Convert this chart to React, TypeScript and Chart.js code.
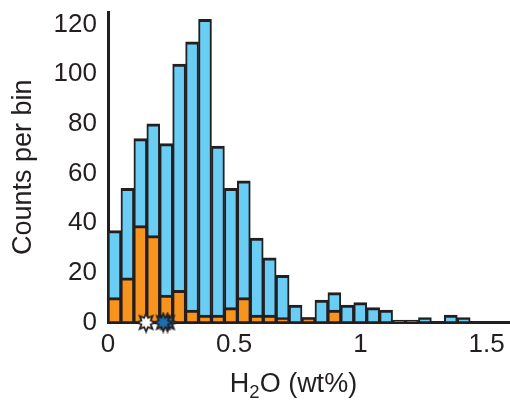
import React, { useEffect, useRef } from "react";
import { Chart, registerables } from "chart.js";

Chart.register(...registerables);

// ---- data ----
const binLabels = [
  "0.00", "0.05", "0.10", "0.15", "0.21", "0.26", "0.31", "0.36", "0.41", "0.46",
  "0.51", "0.56", "0.62", "0.67", "0.72", "0.77", "0.82", "0.87", "0.92", "0.97",
  "1.03", "1.08", "1.13", "1.18", "1.23", "1.28", "1.33", "1.38", "1.44", "1.49", "1.54",
];
const totalCounts = [
  37, 54, 74, 80, 72, 104, 113, 122, 71, 54,
  57, 34, 26, 19, 7, 2, 9, 12, 7, 8,
  6, 5, 1, 1, 2, 0, 3, 2, 0, 0, 0,
];
const orangeCounts = [
  10, 18, 39, 35, 11, 13, 5, 3, 3, 6,
  10, 3, 3, 2, 0, 2, 0, 5, 0, 0,
  0, 0, 0, 0, 0, 0, 0, 0, 0, 0, 0,
];
const starX = [0.151, 0.236, 0.219];
const starY = [0, 0, 0];
const starFills = ["#ffffff", "#1c6db3", "#1c6db3"];
const yTicks = [0, 20, 40, 60, 80, 100, 120];
const xTicks = [0, 0.5, 1, 1.5];
const xRange = [0, 1.589];
const yRange = [0, 125];

const INK = "#231f20";
const BLUE = "#69cdf4";
const ORANGE = "#f7941d";
const FONT = "'Liberation Sans', Arial, Helvetica, sans-serif";

function makeStar(fill: string): HTMLCanvasElement {
  const size = 22;
  const c = document.createElement("canvas");
  c.width = size;
  c.height = size;
  const ctx = c.getContext("2d")!;
  const cx = size / 2, cy = size / 2, R = 9, r = 5, n = 8;
  ctx.beginPath();
  for (let i = 0; i < 2 * n; i++) {
    const rad = i % 2 === 0 ? R : r;
    const a = -Math.PI / 2 + (i * Math.PI) / n;
    const px = cx + rad * Math.cos(a);
    const py = cy + rad * Math.sin(a);
    if (i === 0) ctx.moveTo(px, py);
    else ctx.lineTo(px, py);
  }
  ctx.closePath();
  ctx.fillStyle = fill;
  ctx.fill();
  ctx.lineWidth = 1.8;
  ctx.strokeStyle = INK;
  ctx.stroke();
  return c;
}

const xTitlePlugin = {
  id: "xTitleSub",
  afterDraw(chart: any) {
    const s = chart.scales.xLin;
    const ctx = chart.ctx as CanvasRenderingContext2D;
    const cx = s.getPixelForValue(0.735);
    const base = chart.chartArea.bottom + 69.5;
    const big = `27px ${FONT}`;
    const small = `18.5px ${FONT}`;
    ctx.save();
    ctx.fillStyle = INK;
    ctx.textBaseline = "alphabetic";
    ctx.textAlign = "left";
    ctx.font = big;
    const wH = ctx.measureText("H").width;
    const wRest = ctx.measureText("O (wt%)").width;
    ctx.font = small;
    const w2 = ctx.measureText("2").width;
    let x = cx - (wH + w2 + wRest) / 2;
    ctx.font = big;
    ctx.fillText("H", x, base);
    x += wH;
    ctx.font = small;
    ctx.fillText("2", x, base + 6);
    x += w2;
    ctx.font = big;
    ctx.fillText("O (wt%)", x, base);
    ctx.restore();
  },
};

export default function App() {
  const ref = useRef<HTMLCanvasElement>(null);

  useEffect(() => {
    if (!ref.current) return;
    const stars = starFills.map((f) => makeStar(f));
    const barBorder = { top: 3, left: 2, right: 2, bottom: 1.5 };
    const chart = new Chart(ref.current, {
      type: "bar",
      data: {
        labels: binLabels,
        datasets: [
          {
            type: "scatter",
            label: "stars",
            data: starX.map((x, i) => ({ x, y: starY[i] })),
            xAxisID: "xLin",
            yAxisID: "y",
            pointStyle: stars as any,
            pointRadius: 10,
            clip: false as any,
          } as any,
          {
            label: "orange",
            data: orangeCounts.map((v) => (v ? v : null)),
            xAxisID: "x",
            yAxisID: "y",
            backgroundColor: ORANGE,
            borderColor: INK,
            borderWidth: barBorder,
            borderSkipped: false,
            grouped: false,
            categoryPercentage: 1,
            barPercentage: 1,
          } as any,
          {
            label: "total",
            data: totalCounts.map((v) => (v ? v : null)),
            xAxisID: "x",
            yAxisID: "y",
            backgroundColor: BLUE,
            borderColor: INK,
            borderWidth: barBorder,
            borderSkipped: false,
            grouped: false,
            categoryPercentage: 1,
            barPercentage: 1,
          } as any,
        ],
      },
      options: {
        responsive: false,
        animation: false,
        devicePixelRatio: 1,
        layout: { autoPadding: false, padding: { top: 12, right: 1, bottom: 0, left: 0 } },
        plugins: { legend: { display: false }, tooltip: { enabled: false } },
        scales: {
          x: {
            type: "category",
            display: false,
            offset: true,
            afterFit: (s: any) => {
              s.paddingLeft = 0;
              s.paddingRight = 0;
            },
          },
          xLin: {
            type: "linear",
            position: "bottom",
            offset: false,
            min: xRange[0],
            max: xRange[1],
            afterBuildTicks: (s: any) => {
              s.ticks = xTicks.map((v) => ({ value: v }));
            },
            afterFit: (s: any) => {
              s.height = 79.5;
              s.paddingLeft = 0;
              s.paddingRight = 0;
            },
            grid: { display: false, drawTicks: false, offset: false },
            border: { display: true, color: INK, width: 3 },
            ticks: {
              padding: 7,
              color: INK,
              font: { family: FONT, size: 26 },
              maxRotation: 0,
              autoSkip: false,
              callback: (v: any) => String(v),
            },
          },
          y: {
            type: "linear",
            min: yRange[0],
            max: yRange[1],
            afterBuildTicks: (s: any) => {
              s.ticks = yTicks.map((v) => ({ value: v }));
            },
            afterFit: (s: any) => {
              s.width = 108;
              s.paddingTop = 0;
              s.paddingBottom = 0;
            },
            grid: { display: false, drawTicks: false },
            border: { display: true, color: INK, width: 3 },
            ticks: {
              padding: 11,
              color: INK,
              font: { family: FONT, size: 26 },
              autoSkip: false,
              callback: (v: any) => String(v),
            },
            title: {
              display: true,
              text: "Counts per bin",
              color: INK,
              font: { family: FONT, size: 27 },
              padding: { top: 7, bottom: 0 },
            },
          },
        } as any,
      },
      plugins: [xTitlePlugin],
    } as any);
    return () => chart.destroy();
  }, []);

  return (
    <div style={{ position: "fixed", left: 0, top: 0, width: 510, height: 402, background: "#fff" }}>
      <canvas ref={ref} width={510} height={402} style={{ width: 510, height: 402, display: "block" }} />
    </div>
  );
}
